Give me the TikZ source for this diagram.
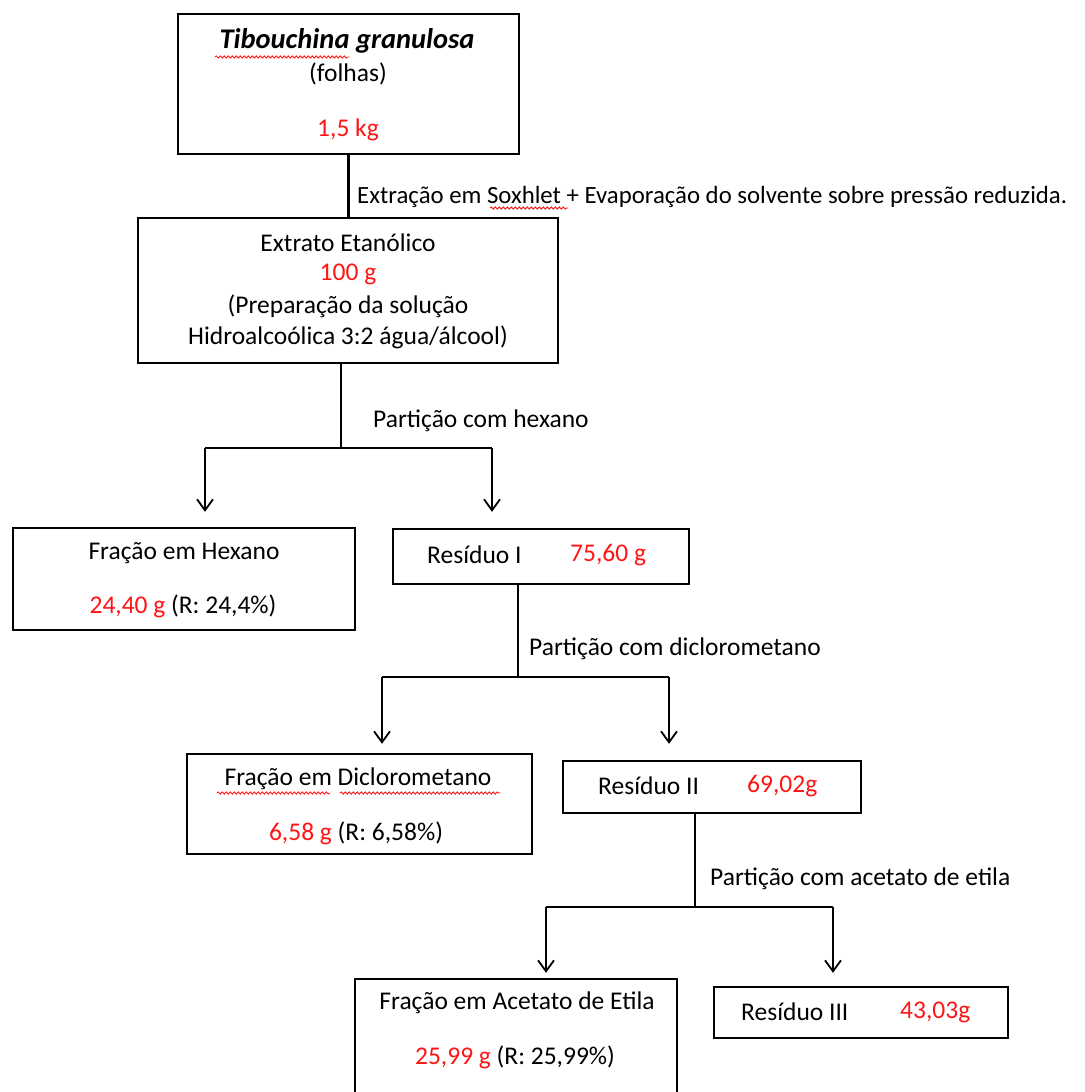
\documentclass[tikz,border=0pt]{standalone}
\usepackage{fontspec}
\setmainfont{Carlito}
\usetikzlibrary{arrows.meta,decorations.pathmorphing}
\definecolor{redtxt}{RGB}{255,20,20}
\tikzset{
  box/.style={draw=black,line width=2.4pt,rectangle,inner sep=0pt,fill=white},
  txt/.style={inner sep=0pt,font=\fontsize{25.5}{30}\selectfont},
  rtxt/.style={txt,text=redtxt},
  conn/.style={line width=2.2pt,draw=black},
  arr/.style={conn,-{Straight Barb[length=11pt,width=16pt,line width=1.8pt]}},
  spell/.style={draw=redtxt,line width=0.9pt,decorate,decoration={snake,segment length=4pt,amplitude=1.1pt}}
}
\begin{document}
\begin{tikzpicture}[x=1pt,y=-1pt]
\useasboundingbox (0,0) rectangle (1084,1092);
\clip (0,0) rectangle (1084,1092);
\fill[white] (0,0) rectangle (1084,1092);
% boxes
\node[box,minimum width=341pt,minimum height=140pt] (b1) at (348.5,84) {};
\node[box,minimum width=420pt,minimum height=145pt] (b2) at (348,290.5) {};
\node[box,minimum width=342pt,minimum height=102pt] (b3) at (183.75,579) {};
\node[box,minimum width=296pt,minimum height=55pt] (b4) at (541,556.5) {};
\node[box,minimum width=345pt,minimum height=100pt] (b5) at (359.5,804) {};
\node[box,minimum width=298pt,minimum height=52pt] (b6) at (712,787) {};
\node[box,minimum width=322pt,minimum height=141pt] (b7) at (516,1049.5) {};
\node[box,minimum width=294pt,minimum height=51pt] (b8) at (861,1012.5) {};
% box 1 texts
\node[txt,font=\fontsize{28.5}{32}\selectfont\bfseries\itshape] (t1a) at (347,41) {Tibouchina granulosa};
\node[txt] (t1b) at (348,74) {(folhas)};
\node[rtxt] (t1c) at (348,130) {1,5 kg};
% box 2 texts
\node[txt] (t2a) at (348,243) {Extrato Etanólico};
\node[rtxt] (t2b) at (348,274) {100 g};
\node[txt] (t2c) at (348,306) {(Preparação da solução};
\node[txt] (t2d) at (348,337) {Hidroalcoólica 3:2 água/álcool)};
% box 3
\node[txt] (t3a) at (184,553) {Fração em Hexano};
\node[txt] (t3b) at (183,606) {\textcolor{redtxt}{24,40 g} (R: 24,4\%)};
% box 4
\node[txt,anchor=west] (t4a) at (427,555) {Resíduo I};
\node[rtxt,anchor=west] (t4b) at (570,555) {75,60 g};
% box 5
\node[txt] (t5a) at (358,779) {Fração em Diclorometano};
\node[txt] (t5b) at (356,833) {\textcolor{redtxt}{6,58 g} (R: 6,58\%)};
% box 6
\node[txt,anchor=west] (t6a) at (598,786) {Resíduo II};
\node[rtxt,anchor=west] (t6b) at (747,786) {69,02g};
% box 7
\node[txt] (t7a) at (517,1003) {Fração em Acetato de Etila};
\node[txt] (t7b) at (515,1057) {\textcolor{redtxt}{25,99 g} (R: 25,99\%)};
% box 8
\node[txt,anchor=west] (t8a) at (741,1012) {Resíduo III};
\node[rtxt,anchor=west] (t8b) at (900,1012) {43,03g};
% spell-check marks
\draw[spell] (215,57) -- (349,57);
\draw[spell] (490,208) -- (568,208);
\draw[spell] (217,793) -- (330,793);
\draw[spell] (340,793) -- (500,793);
% connector 1
\draw[conn] (b1.south) -- (b1.south |- b2.north);
\node[txt,anchor=west,font=\fontsize{24.8}{30}\selectfont] (l1) at (357,197) {Extração em Soxhlet + Evaporação do solvente sobre pressão reduzida.};
% split 1
\coordinate (s1) at (341,448);
\coordinate (s1L) at (205,448);
\coordinate (s1R) at (492,448);
\draw[conn] (b2.south -| s1) -- (s1);
\draw[conn] (s1L) -- (s1R);
\draw[arr,shorten >=15pt] (s1L) -- (s1L |- b3.north);
\draw[arr,shorten >=16pt] (s1R) -- (s1R |- b4.north);
\node[txt,anchor=west] (l2) at (373,421) {Partição com hexano};
% split 2
\coordinate (s2) at (518,677);
\coordinate (s2L) at (382,677);
\coordinate (s2R) at (669,677);
\draw[conn] (b4.south -| s2) -- (s2);
\draw[conn] (s2L) -- (s2R);
\draw[arr,shorten >=9pt] (s2L) -- (s2L |- b5.north);
\draw[arr,shorten >=16pt] (s2R) -- (s2R |- b6.north);
\node[txt,anchor=west] (l3) at (529,649) {Partição com diclorometano};
% split 3
\coordinate (s3) at (695,907);
\coordinate (s3L) at (546,907);
\coordinate (s3R) at (833,907);
\draw[conn] (b6.south -| s3) -- (s3);
\draw[conn] (s3L) -- (s3R);
\draw[arr,shorten >=5pt] (s3L) -- (s3L |- b7.north);
\draw[arr,shorten >=13pt] (s3R) -- (s3R |- b8.north);
\node[txt,anchor=west] (l4) at (710,879) {Partição com acetato de etila};
\end{tikzpicture}
\end{document}
